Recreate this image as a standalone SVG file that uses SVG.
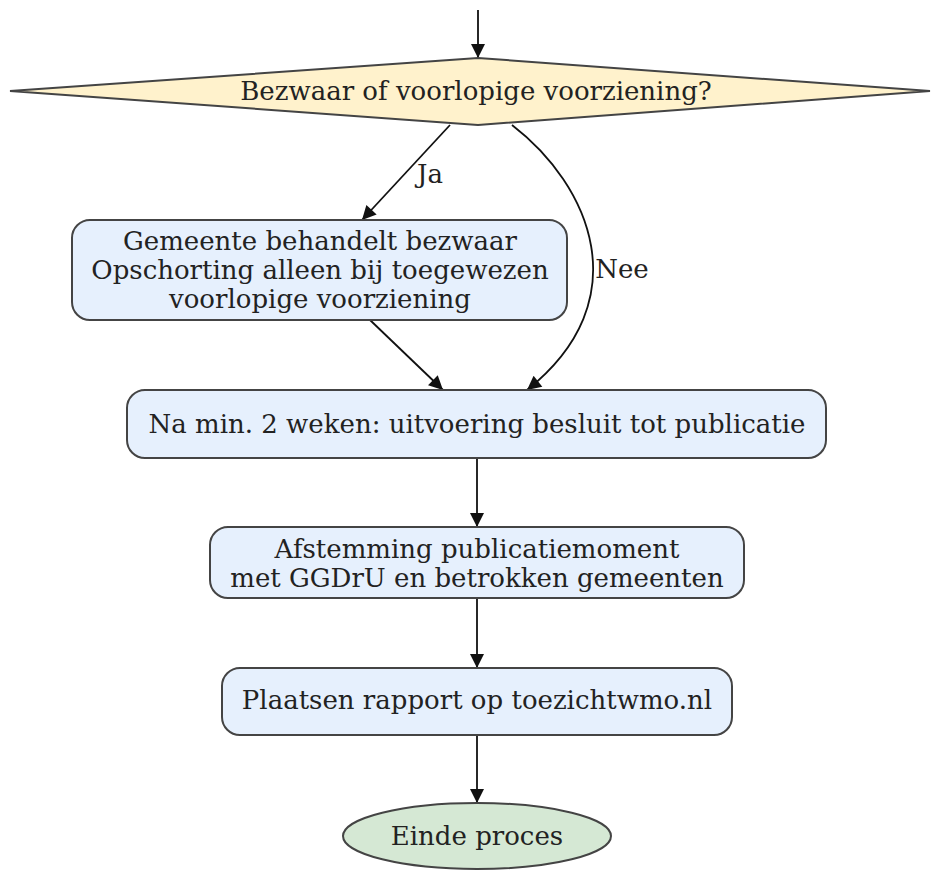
<svg xmlns="http://www.w3.org/2000/svg" width="934" height="870" viewBox="0 0 934 870">
<style>
text{font-family:"DejaVu Serif",serif;font-size:26px;fill:#222;text-anchor:middle}
.box{fill:#e6f0fd;stroke:#444;stroke-width:2}
.e{fill:none;stroke:#111;stroke-width:1.8}
</style>
<defs>
<marker id="ah" viewBox="0 0 10 10" refX="10" refY="5" markerWidth="19" markerHeight="14" markerUnits="userSpaceOnUse" orient="auto">
<path d="M0,0 L10,5 L0,10 z" fill="#111"/>
</marker>
</defs>
<rect width="934" height="870" fill="#fff"/>
<g id="edges">
<path class="e" d="M478,10 L478,58" marker-end="url(#ah)"/>
<path class="e" d="M450,125 L362,220" marker-end="url(#ah)"/>
<text x="430" y="183">Ja</text>
<path class="e" d="M512,125 C590,185 640,300 527,390" marker-end="url(#ah)"/>
<text x="622" y="278">Nee</text>
<path class="e" d="M370,320 L443,390" marker-end="url(#ah)"/>
<path class="e" d="M477,458 L477,527" marker-end="url(#ah)"/>
<path class="e" d="M477,598 L477,668" marker-end="url(#ah)"/>
<path class="e" d="M477,735 L477,803" marker-end="url(#ah)"/>
</g>
<g id="decision">
<polygon points="478,58 930,91 478,125 10,91" fill="#fff2cc" stroke="#444" stroke-width="2"/>
<text x="476" y="100">Bezwaar of voorlopige voorziening?</text>
</g>
<g id="bezwaar">
<rect class="box" x="72" y="220" width="495" height="100" rx="18"/>
<text x="320" y="250">Gemeente behandelt bezwaar</text>
<text x="320" y="279">Opschorting alleen bij toegewezen</text>
<text x="320" y="308">voorlopige voorziening</text>
</g>
<g id="uitvoering">
<rect class="box" x="127" y="390" width="699" height="68" rx="18"/>
<text x="477" y="433">Na min. 2 weken: uitvoering besluit tot publicatie</text>
</g>
<g id="afstemming">
<rect class="box" x="210" y="527" width="534" height="71" rx="18"/>
<text x="477" y="558">Afstemming publicatiemoment</text>
<text x="477" y="587">met GGDrU en betrokken gemeenten</text>
</g>
<g id="plaatsen">
<rect class="box" x="222" y="668" width="510" height="67" rx="18"/>
<text x="477" y="709">Plaatsen rapport op toezichtwmo.nl</text>
</g>
<g id="einde">
<ellipse cx="477" cy="836" rx="134" ry="33" fill="#d5e8d4" stroke="#444" stroke-width="2"/>
<text x="477" y="845">Einde proces</text>
</g>
</svg>
